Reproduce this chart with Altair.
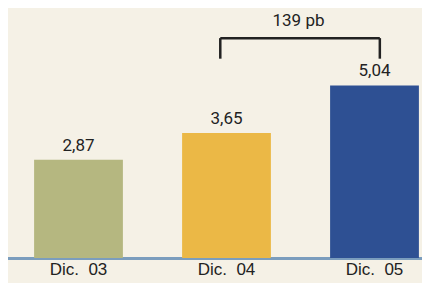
import altair as alt
import pandas as pd

categories = ["Dic.\u00a0 03", "Dic.\u00a0 04", "Dic.\u00a0 05"]
values = [2.87, 3.65, 5.04]
value_labels = ["2,87", "3,65", "5,04"]
bar_colors = ["#b5b780", "#ebb846", "#2e5093"]

bracket_from = "Dic.\u00a0 04"
bracket_to = "Dic.\u00a0 05"
bracket_label = "139 pb"
bracket_top = 6.42
bracket_bottom = 5.82
bracket_text_y = 6.76

df = pd.DataFrame({"cat": categories, "val": values, "lab": value_labels})
br_h = pd.DataFrame({"a": [bracket_from], "b": [bracket_to], "y": [bracket_top]})
br_l = pd.DataFrame({"a": [bracket_from], "y": [bracket_bottom], "y2": [bracket_top]})
br_r = pd.DataFrame({"a": [bracket_to], "y": [bracket_bottom], "y2": [bracket_top]})
br_t = pd.DataFrame({"a": [bracket_from], "y": [bracket_text_y], "t": [bracket_label]})

xs = alt.Scale(domain=categories, range=[-3.5, 440.5], paddingInner=0.4, paddingOuter=0.2)
ys = alt.Scale(domain=[0, 7.3], nice=False)

x_axis = alt.Axis(title=None, ticks=False, labelAngle=0, labelFontSize=17, labelFont="Liberation Sans",
                  labelColor="#222222", labelPadding=3, domainColor="#7b9dbd", domainWidth=3)

bars = alt.Chart(df).mark_bar().encode(
    x=alt.X("cat:N", scale=xs, axis=x_axis, sort=categories),
    y=alt.Y("val:Q", scale=ys, axis=None),
    color=alt.Color("cat:N", scale=alt.Scale(domain=categories, range=bar_colors), legend=None),
)

texts = alt.Chart(df).mark_text(baseline="alphabetic", dy=-9, fontSize=17, font="Roboto", color="#222222").encode(
    x=alt.X("cat:N", scale=xs, sort=categories),
    y=alt.Y("val:Q", scale=ys),
    text="lab:N",
)

left_pos = 0.43
right_pos = 0.56
line_style = dict(color="#222222", strokeWidth=2.5)

h_rule = alt.Chart(br_h).mark_rule(**line_style).encode(
    x=alt.X("a:N", scale=xs, bandPosition=left_pos),
    x2=alt.X2("b:N", bandPosition=right_pos),
    y=alt.Y("y:Q", scale=ys),
)
l_rule = alt.Chart(br_l).mark_rule(**line_style).encode(
    x=alt.X("a:N", scale=xs, bandPosition=left_pos), y=alt.Y("y:Q", scale=ys), y2="y2:Q"
)
r_rule = alt.Chart(br_r).mark_rule(**line_style).encode(
    x=alt.X("a:N", scale=xs, bandPosition=right_pos), y=alt.Y("y:Q", scale=ys), y2="y2:Q"
)
b_text = alt.Chart(br_t).mark_text(baseline="alphabetic", fontSize=17, font="Roboto", color="#222222", dx=72).encode(
    x=alt.X("a:N", scale=xs), y=alt.Y("y:Q", scale=ys), text="t:N"
)

chart = alt.layer(bars, texts, h_rule, l_rule, r_rule, b_text).properties(
    width=414, height=250,
    autosize=alt.AutoSizeParams(type="none"),
    padding={"left": 0, "top": 0, "right": 0, "bottom": 25},
    background="#f5f1e6",
).configure_view(stroke=None)

chart.save("out.html", embed_options={"renderer": "svg", "actions": False})
